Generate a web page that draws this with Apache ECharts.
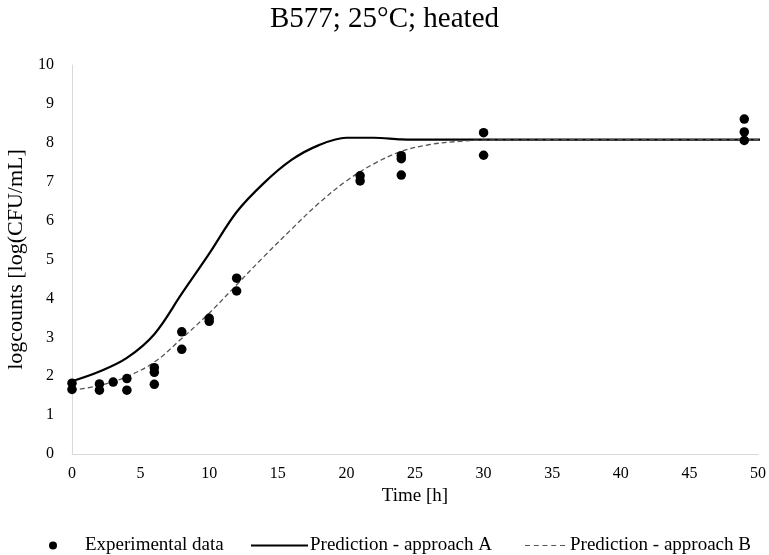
<!DOCTYPE html>
<html>
<head>
<meta charset="utf-8">
<script src="https://cdn.jsdelivr.net/npm/echarts@6/dist/echarts.min.js"></script>
<style>html,body{margin:0;padding:0;background:#fff}#c{width:769px;height:555px}</style>
</head>
<body>
<div id="c"></div>
<script>
const titleText = 'B577; 25°C; heated';
const xName = 'Time [h]';
const yName = 'logcounts [log(CFU/mL]';
const expX = [0,0,2,2,3,4,4,6,6,6,8,8,10,10,12,12,21,21,24,24,24,30,30,49,49,49];
const expY = [1.82,1.66,1.80,1.64,1.85,1.94,1.64,2.22,2.10,1.79,3.14,2.69,3.49,3.41,4.52,4.19,7.15,7.02,7.67,7.59,7.17,8.26,7.68,8.61,8.28,8.06];
const predAX = [0,2,4,6,8,10,12,14,16,18,20,22,24,26,28,30,40,50.3];
const predAY = [1.87,2.12,2.47,3.08,4.12,5.15,6.22,6.97,7.56,7.94,8.13,8.13,8.09,8.08,8.08,8.08,8.08,8.08];
const predBX = [0,2,4,6,8,10,12,14,16,18,20,22,24,26,28,30,40,50.3];
const predBY = [1.64,1.76,1.99,2.36,2.97,3.62,4.35,5.08,5.78,6.45,7.02,7.46,7.78,7.95,8.03,8.07,8.08,8.08];

const zip = (a, b) => a.map((v, i) => [v, b[i]]);
const font = '"Liberation Serif", "Times New Roman", serif';
const legendText = {fontFamily: font, fontSize: 19, color: '#000'};
const chart = echarts.init(document.getElementById('c'));
chart.setOption({
  animation: false,
  backgroundColor: '#fff',
  title: {
    text: titleText, left: 'center', top: 0,
    textStyle: {fontFamily: font, fontWeight: 'normal', fontSize: 29, color: '#000'}
  },
  grid: {left: 72, right: 11, top: 65, bottom: 101, containLabel: false, outerBoundsMode: 'none'},
  xAxis: {
    type: 'value', min: 0, max: 50, interval: 5,
    name: xName, nameLocation: 'middle', nameGap: 29,
    nameTextStyle: {fontFamily: font, fontSize: 19, color: '#000'},
    axisLine: {show: true, lineStyle: {color: '#d9d9d9', width: 1}},
    axisTick: {show: false},
    splitLine: {show: false},
    axisLabel: {fontFamily: font, fontSize: 16, color: '#000', margin: 12}
  },
  yAxis: {
    type: 'value', min: 0, max: 10, interval: 1,
    name: yName, nameLocation: 'middle', nameGap: 39,
    nameTextStyle: {fontFamily: font, fontSize: 22, color: '#000'},
    axisLine: {show: true, lineStyle: {color: '#d9d9d9', width: 1}},
    axisTick: {show: false},
    splitLine: {show: false},
    axisLabel: {fontFamily: font, fontSize: 16, color: '#000', margin: 18}
  },
  legend: [
    {left: 44, top: 531, itemWidth: 8, itemHeight: 8, itemGap: 0,
     data: [{name: 'Experimental data', icon: 'circle'}],
     textStyle: Object.assign({padding: [0,0,0,23]}, legendText)},
    {left: 246, top: 531, itemWidth: 57, itemHeight: 2, itemGap: 0,
     data: [{name: 'Prediction - approach A', icon: 'path://M0,0H57V2H0Z'}],
     textStyle: Object.assign({padding: [0,0,0,-3]}, legendText)},
    {left: 520, top: 531, itemWidth: 40, itemHeight: 1.2, itemGap: 0,
     data: [{name: 'Prediction - approach B', icon: 'path://M0,0H5V1.2H0Z M8.75,0H13.75V1.2H8.75Z M17.5,0H22.5V1.2H17.5Z M26.25,0H31.25V1.2H26.25Z M35,0H40V1.2H35Z'}],
     textStyle: Object.assign({padding: [0,0,0,0]}, legendText)}
  ],
  series: [
    {
      name: 'Prediction - approach A', type: 'line', data: zip(predAX, predAY),
      smooth: 0.35, showSymbol: false, symbol: 'none', z: 2,
      lineStyle: {color: '#000', width: 2.2}, itemStyle: {color: '#000'}
    },
    {
      name: 'Prediction - approach B', type: 'line', data: zip(predBX, predBY),
      smooth: 0.35, showSymbol: false, symbol: 'none', z: 2,
      lineStyle: {color: '#555', width: 1.3, type: [5, 3]}, itemStyle: {color: '#555'}
    },
    {
      name: 'Experimental data', type: 'scatter', data: zip(expX, expY),
      symbol: 'circle', symbolSize: 9.5, z: 3,
      itemStyle: {color: '#000', opacity: 1}
    }
  ]
});
</script>
</body>
</html>
